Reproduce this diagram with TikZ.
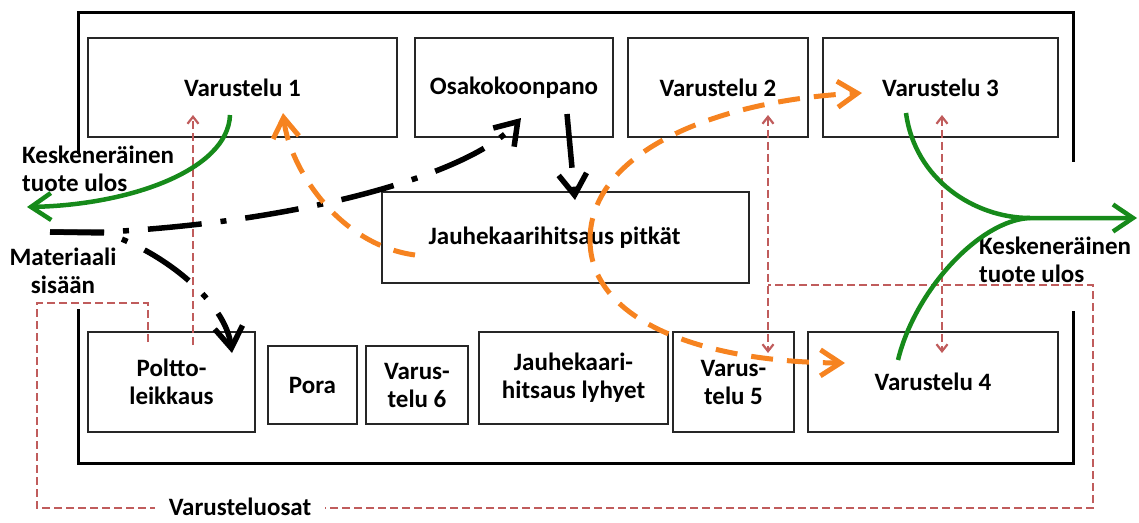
\documentclass[tikz,border=0pt]{standalone}
\usepackage{fontspec}
\setmainfont{Carlito}
\usetikzlibrary{arrows.meta}
\definecolor{flowgreen}{RGB}{22,138,26}
\definecolor{floworange}{RGB}{246,131,32}
\definecolor{partsred}{RGB}{192,92,92}
\begin{document}
\begin{tikzpicture}[x=1pt,y=-1pt,
  every node/.style={font=\fontsize{25}{28}\selectfont\bfseries, inner sep=0pt},
  box/.style={draw=black!85, line width=1.3pt, align=center},
  hall/.style={line width=3pt, line cap=rect},
  greenflow/.style={draw=flowgreen, line width=4.5pt,
    -{Straight Barb[length=20pt,width=27pt]}},
  greenline/.style={draw=flowgreen, line width=4.5pt},
  orangeflow/.style={draw=floworange, line width=5pt,
    dash pattern=on 22pt off 14pt,
    -{Straight Barb[length=20pt,width=26pt]}},
  blackflow/.style={draw=black, line width=5.5pt,
    dash pattern=on 54pt off 19pt on 6pt off 19pt,
    -{Straight Barb[length=21pt,width=28pt]}},
  partsline/.style={draw=partsred, line width=2.2pt, dash pattern=on 8pt off 4pt},
  partsarrow/.style={partsline, -{Straight Barb[length=7pt,width=11pt]}},
  partsboth/.style={partsline, {Straight Barb[length=7pt,width=11pt]}-{Straight Barb[length=7pt,width=11pt]}}
]
\useasboundingbox (0,0) rectangle (1139,522);

% hall walls
\draw[hall] (78,152) -- (78,12) -- (1073,12) -- (1073,160);
\draw[hall] (78,310) -- (78,463) -- (1073,463) -- (1073,312);

% top row of work stations
\node[box, minimum width=309pt, minimum height=99pt] (v1) at (242.5,87.5) {Varustelu 1};
\node[box, minimum width=198pt, minimum height=99pt] (osa) at (514,87.5) {Osakokoonpano};
\node[box, minimum width=180pt, minimum height=99pt] (v2) at (718,87.5) {Varustelu 2};
\node[box, minimum width=235pt, minimum height=99pt] (v3) at (940.5,87.5) {Varustelu 3};

% middle station
\node[box, minimum width=367pt, minimum height=91pt] (jp) at (565.5,237.5) {Jauhekaarihitsaus pitkät\hspace*{22pt}};

% bottom row of work stations
\node[box, minimum width=167pt, minimum height=100pt] (pl) at (171.5,382) {Poltto-\\leikkaus};
\node[box, minimum width=89pt, minimum height=78pt] (pora) at (312.5,385) {Pora};
\node[box, minimum width=102pt, minimum height=78pt] (v6) at (417,385) {Varus-\\telu 6};
\node[box, minimum width=189pt, minimum height=92pt] (jl) at (573.5,378) {Jauhekaari-\\hitsaus lyhyet};
\node[box, minimum width=121pt, minimum height=100pt] (v5) at (733.5,382) {Varus-\\telu 5};
\node[box, minimum width=250pt, minimum height=100pt] (v4) at (933,382) {Varustelu 4};

% free labels
\node[align=left, anchor=west] (outL) at (22,169) {Keskeneräinen\\tuote ulos};
\node[align=center] (matin) at (63,271) {Materiaali\\sisään};
\node[align=left, anchor=west] (outR) at (979,260) {Keskeneräinen\\tuote ulos};

% points where the flows start, join and leave
\coordinate (matstart) at (50,232);
\coordinate (v1g) at (230,115);
\coordinate (exitL) at (27,207);
\coordinate (v3g) at (906,113);
\coordinate (v4g) at (898,360);
\coordinate (merge) at (1030,218);
\coordinate (exitR) at (1137,218);
\coordinate (jpL) at (415,255);
\coordinate (jpC) at (590,240);
\coordinate (v1o) at (283,113);
\coordinate (v3o) at (862,93);
\coordinate (v4o) at (845,363);
\coordinate (osaIn) at (521,118);
\coordinate (osaOut) at (567,114);
\coordinate (jpIn) at (575,200);
\coordinate (plIn) at (232,353);

% spare parts routes
\coordinate (plTop) at (148,342);
\coordinate (loopA) at (148,303);
\coordinate (loopB) at (37,303);
\coordinate (loopC) at (37,508);
\coordinate (loopD) at (1093,508);
\coordinate (loopE) at (1093,285);
\coordinate (loopF) at (768,285);
\coordinate (p1lo) at (193,345);
\coordinate (p1hi) at (193,115);
\coordinate (p2hi) at (768,115);
\coordinate (p5lo) at (768,353);
\coordinate (p3hi) at (942,115);
\coordinate (p4lo) at (942,353);

\draw[partsline] (plTop) -- (loopA) -- (loopB) -- (loopC) -- (loopD) -- (loopE) -- (loopF);
\node[fill=white, inner xsep=14pt, inner ysep=2pt] (osat) at (240,507) {Varusteluosat};
\draw[partsarrow] (p1lo) -- (p1hi);
\draw[partsboth] (p2hi) -- (p5lo);
\draw[partsboth] (p3hi) -- (p4lo);

% material flow (black, dash-dotted)
\draw[blackflow] (matstart) -- (105,232) .. controls (300,222) and (470,175) .. (osaIn);
\draw[blackflow] (matstart) -- (105,233) .. controls (160,250) and (225,300) .. (plIn);
\draw[blackflow] (osaOut) -- (jpIn);

% intermediate product flow (orange, dashed)
\draw[orangeflow] (jpL) .. controls (340,245) and (290,170) .. (v1o);
\draw[orangeflow] (jpC) .. controls (590,150) and (720,100) .. (v3o);
\draw[orangeflow] (jpC) .. controls (590,320) and (700,362) .. (v4o);

% unfinished products leaving the hall (green)
\draw[greenflow] (v1g) .. controls (228,170) and (130,205) .. (exitL);
\draw[greenflow] (v3g) .. controls (915,180) and (975,218) .. (merge) -- (exitR);
\draw[greenline] (v4g) .. controls (915,290) and (980,220) .. (merge);
\end{tikzpicture}
\end{document}
